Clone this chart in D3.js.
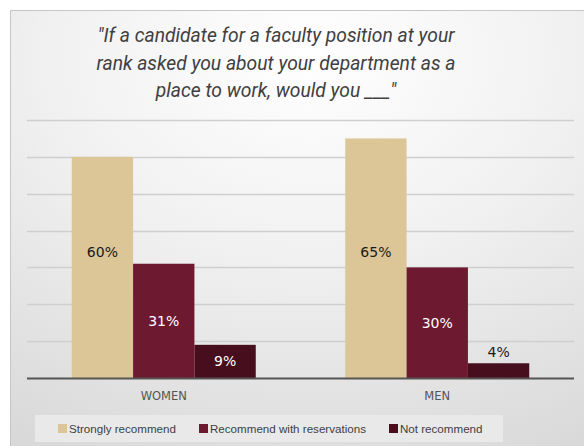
<!DOCTYPE html>
<html><head><meta charset="utf-8">
<script src="https://cdn.jsdelivr.net/npm/d3@7"></script>
<style>html,body{margin:0;padding:0;background:#fff;}svg{display:block;}</style>
</head><body>
<svg id="c" width="584" height="446"></svg>
<script>
const titleLines = ['"If a candidate for a faculty position at your', 'rank asked you about your department as a', 'place to work, would you ___"'];
const categories = ["WOMEN", "MEN"];
const seriesNames = ["Strongly recommend", "Recommend with reservations", "Not recommend"];
const strongly = [60, 65];
const reservations = [31, 30];
const notRecommend = [9, 4];
const yTicks = [0, 10, 20, 30, 40, 50, 60, 70];
const colors = ["#DCC597", "#6D1A30", "#470E1E"];
const labelColors = ["#1a1a1a", "#ffffff", "#ffffff"];

(function(){
const series = [strongly, reservations, notRecommend];
const svg = d3.select("#c");
const defs = svg.append("defs");
const g1 = defs.append("radialGradient").attr("id","bg").attr("cx","0.5").attr("cy","0.1").attr("r","0.95");
g1.append("stop").attr("offset","0").attr("stop-color","#ffffff");
g1.append("stop").attr("offset","0.45").attr("stop-color","#f1f1f1");
g1.append("stop").attr("offset","1").attr("stop-color","#d9d9d9");

svg.append("rect").attr("x",10.5).attr("y",10.5).attr("width",600).attr("height",460)
  .attr("fill","url(#bg)").attr("stroke","#c6c6c6").attr("stroke-width",1);

const tg = svg.append("text").attr("x",276).attr("y",42).attr("text-anchor","middle")
  .attr("font-family","Roboto").attr("font-style","italic").attr("font-size",19.3).attr("fill","#404040");
titleLines.forEach((t,i)=>tg.append("tspan").attr("x",276).attr("dy", i===0?0:27.5).text(t));

const pl = 27, pr = 574, pt = 120, pb = 378;
const y = d3.scaleLinear().domain([0,70]).range([pb, pt]);
const x0 = d3.scaleBand().domain(categories).range([pl, pr]).padding(0);
const groupW = 184;
const x1 = d3.scaleBand().domain(d3.range(series.length)).range([0, groupW]).padding(0);

svg.append("g").selectAll("line").data(yTicks.slice(1)).join("line")
  .attr("x1", pl).attr("x2", pr).attr("y1", d=>Math.round(y(d))+0.5).attr("y2", d=>Math.round(y(d))+0.5)
  .attr("stroke","#cfcfcf").attr("stroke-width",1.5);

const groups = svg.append("g").selectAll("g").data(categories).join("g")
  .attr("transform", c=>`translate(${x0(c)+(x0.bandwidth()-groupW)/2},0)`);

groups.each(function(c, ci){
  const g = d3.select(this);
  series.forEach((s, si)=>{
    const v = s[ci];
    g.append("rect").attr("x", x1(si)).attr("y", y(v)).attr("width", x1.bandwidth()).attr("height", y(0)-y(v)).attr("fill", colors[si]);
    let ly, fill = labelColors[si];
    if (y(0)-y(v) < 22) { ly = y(v) - 6; fill = "#1a1a1a"; }
    else if (si === 0) { ly = y(34.2) + 5; }
    else { ly = (y(v)+y(0))/2 + 5; }
    g.append("text").attr("x", x1(si)+x1.bandwidth()/2).attr("y", ly).attr("text-anchor","middle")
      .attr("font-family","DejaVu Sans").attr("font-size",14).attr("fill",fill).text(v+"%");
  });
});

svg.append("line").attr("x1",pl).attr("x2",pr).attr("y1",pb+0.5).attr("y2",pb+0.5).attr("stroke","#555").attr("stroke-width",2);

const xAxis = d3.axisBottom(x0).tickSize(0).tickPadding(14);
const ax = svg.append("g").attr("transform",`translate(0,${pb})`).call(xAxis);
ax.select(".domain").remove();
ax.selectAll("text").attr("font-family","DejaVu Sans").attr("font-size",11.5).attr("fill","#555");

svg.append("rect").attr("x",35).attr("y",415).attr("width",468).attr("height",27).attr("fill","#e9e9e9");
const legX = [58, 199, 389];
const lg = svg.append("g").selectAll("g").data(seriesNames).join("g").attr("transform",(d,i)=>`translate(${legX[i]},424)`);
lg.append("rect").attr("width",9).attr("height",9).attr("fill",(d,i)=>colors[i]);
lg.append("text").attr("x",11).attr("y",9).attr("font-family","Liberation Sans").attr("font-size",11.6).attr("fill","#404040").text(d=>d);
})();
</script>
</body></html>
